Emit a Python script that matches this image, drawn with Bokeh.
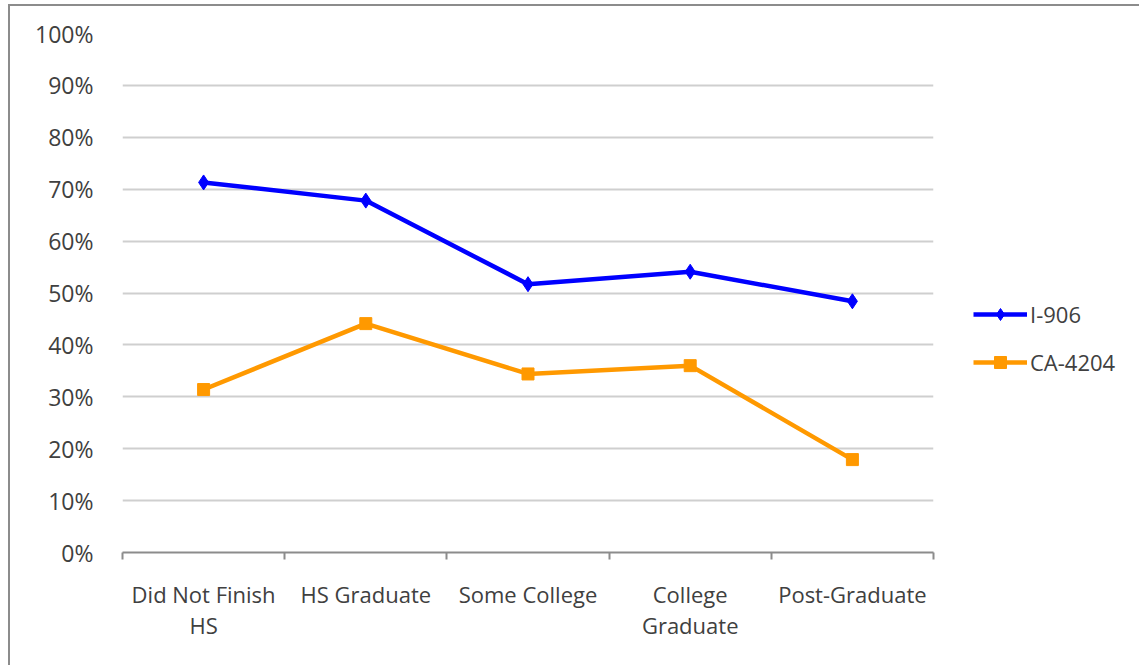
from bokeh.plotting import figure
from bokeh.models import (ColumnDataSource, FixedTicker, NumeralTickFormatter, Range1d,
                          Legend, LegendItem)
from bokeh.embed import file_html
from bokeh.resources import INLINE

categories = ["Did Not Finish\nHS", "HS Graduate", "Some College", "College\nGraduate", "Post-Graduate"]
i906 = [0.713, 0.678, 0.517, 0.541, 0.484]
ca4204 = [0.314, 0.441, 0.344, 0.360, 0.179]
y_ticks = [0.0, 0.1, 0.2, 0.3, 0.4, 0.5, 0.6, 0.7, 0.8, 0.9, 1.0]

FONT = "Open Sans"
TXT = "#404040"

xpos = [i + 0.5 for i in range(len(categories))]
src = ColumnDataSource(dict(x=xpos, a=i906, b=ca4204))

p = figure(frame_width=811, frame_height=519,
           min_border_left=112, min_border_right=206, min_border_top=27, min_border_bottom=113,
           x_range=Range1d(0, len(categories)), y_range=Range1d(0, 1),
           output_backend="svg", toolbar_location=None, margin=(4, 0, 0, 8))
p.styles = {"border-left": "2px solid #8c8c8c", "border-top": "2px solid #8c8c8c"}
p.outline_line_color = None
p.background_fill_color = "white"
p.border_fill_color = "white"

# y axis
p.yaxis.ticker = FixedTicker(ticks=y_ticks)
p.yaxis.formatter = NumeralTickFormatter(format="0%")
p.yaxis.axis_line_color = None
p.yaxis.major_tick_line_color = None
p.yaxis.minor_tick_line_color = None
p.yaxis.major_label_standoff = 23
p.yaxis.major_label_text_font = FONT
p.yaxis.major_label_text_font_size = "23px"
p.yaxis.major_label_text_color = TXT

# x axis: labels at category centres, ticks at boundaries
p.xaxis.ticker = FixedTicker(ticks=xpos, minor_ticks=list(range(len(categories) + 1)))
p.xaxis.major_label_overrides = {x: c for x, c in zip(xpos, categories)}
p.xaxis.axis_line_color = "#8c8c8c"
p.xaxis.axis_line_width = 2
p.xaxis.major_tick_line_color = None
p.xaxis.minor_tick_line_color = "#8c8c8c"
p.xaxis.minor_tick_line_width = 2
p.xaxis.minor_tick_out = 7
p.xaxis.minor_tick_in = 0
p.xaxis.major_label_standoff = 19
p.xaxis.major_label_text_font = FONT
p.xaxis.major_label_text_font_size = "22px"
p.xaxis.major_label_text_color = TXT
p.xaxis.major_label_text_line_height = 1.05

p.xgrid.grid_line_color = None
p.ygrid.ticker = FixedTicker(ticks=y_ticks[1:])
p.ygrid.grid_line_color = "#cfcfcf"
p.ygrid.grid_line_width = 2

l1 = p.line("x", "a", source=src, line_color="#0000ff", line_width=4.5)
m1 = p.scatter("x", "a", source=src, marker="diamond", size=15, fill_color="#0000ff", line_color="#0000ff")
l2 = p.line("x", "b", source=src, line_color="#ff9900", line_width=4.5)
m2 = p.scatter("x", "b", source=src, marker="square", size=12, fill_color="#ff9900", line_color="#ff9900")

legend = Legend(items=[LegendItem(label="I-906", renderers=[l1, m1]),
                       LegendItem(label="CA-4204", renderers=[l2, m2])],
                location=(40, 175), orientation="vertical",
                glyph_width=54, glyph_height=30, label_standoff=3, spacing=18,
                padding=0, margin=0, border_line_color=None, background_fill_alpha=0,
                label_text_font=FONT, label_text_font_size="22px", label_text_color=TXT)
p.add_layout(legend, "right")

open("out.html", "w").write(file_html(p, INLINE))
